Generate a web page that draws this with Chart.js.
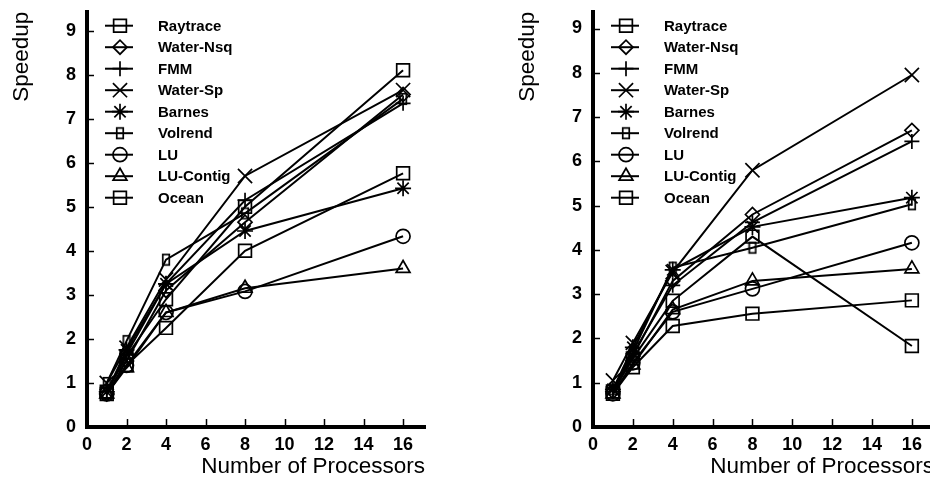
<html>
<head>
<meta charset="utf-8">
<title>Speedup vs. Number of Processors</title>
<style>
  html, body { margin: 0; padding: 0; background: #fff; overflow: hidden; width: 930px; height: 484px; }
  .panel { position: absolute; top: 0; }
</style>
</head>
<body>
<div class="panel" style="left:0px"><canvas id="left" width="465" height="484"></canvas></div>
<div class="panel" style="left:506px"><canvas id="right" width="465" height="484"></canvas></div>
<script src="https://cdn.jsdelivr.net/npm/chart.js"></script>
<script>
// processor counts on the x axis
var processors = [1, 2, 4, 8, 16];
var programs = ["Raytrace", "Water-Nsq", "FMM", "Water-Sp", "Barnes", "Volrend", "LU", "LU-Contig", "Ocean"];
var xTitle = "Number of Processors";
var yTitle = "Speedup";

// left panel, speedup at 1, 2, 4, 8, 16 processors
var leftRaytrace = [0.8, 1.6, 2.9, 5.0, 8.1];
var leftWaterNsq = [0.75, 1.5, 3.1, 4.65, 7.55];
var leftFMM = [0.8, 1.65, 3.25, 5.15, 7.35];
var leftWaterSp = [1.0, 1.8, 3.35, 5.7, 7.65];
var leftBarnes = [0.8, 1.75, 3.25, 4.45, 5.42];
var leftVolrend = [1.0, 1.95, 3.8, 4.85, 7.45];
var leftLU = [0.75, 1.4, 2.6, 3.08, 4.33];
var leftLUContig = [0.75, 1.35, 2.6, 3.15, 3.6];
var leftOcean = [0.75, 1.4, 2.25, 4.0, 5.76];

// right panel
var rightRaytrace = [0.8, 1.55, 2.85, 4.3, 1.83];
var rightWaterNsq = [0.8, 1.6, 3.3, 4.8, 6.7];
var rightFMM = [0.8, 1.65, 3.2, 4.62, 6.45];
var rightWaterSp = [1.05, 1.9, 3.5, 5.8, 7.95];
var rightBarnes = [0.85, 1.8, 3.55, 4.52, 5.18];
var rightVolrend = [0.85, 1.7, 3.6, 4.05, 5.03];
var rightLU = [0.75, 1.45, 2.6, 3.12, 4.16];
var rightLUContig = [0.75, 1.4, 2.65, 3.3, 3.57];
var rightOcean = [0.75, 1.35, 2.28, 2.56, 2.86];

var leftSeries = [leftRaytrace, leftWaterNsq, leftFMM, leftWaterSp, leftBarnes, leftVolrend, leftLU, leftLUContig, leftOcean];
var rightSeries = [rightRaytrace, rightWaterNsq, rightFMM, rightWaterSp, rightBarnes, rightVolrend, rightLU, rightLUContig, rightOcean];

var fontFamily = "'Liberation Sans', Arial, Helvetica, sans-serif";

// narrow upright box used for Volrend
function tallBox() {
    var c = document.createElement("canvas");
    c.width = 10;
    c.height = 14;
    var g = c.getContext("2d");
    g.strokeStyle = "#000";
    g.lineWidth = 1.7;
    g.strokeRect(1.75, 1.75, 6.5, 10.5);
    return c;
}

var markerStyles = ["rect", "rectRot", "cross", "crossRot", "star", tallBox(), "circle", "triangle", "rect"];
var markerSizes = [9, 7, 7.5, 10, 8, 6, 7, 8, 9];

// legend drawn as line + marker sample, inside the plot area
var lineLegend = {
    id: "lineLegend",
    afterDraw: function (chart) {
        var ctx = chart.ctx;
        var a = chart.chartArea;
        ctx.save();
        chart.data.datasets.forEach(function (ds, i) {
            var y = a.top + 14 + i * 21.5;
            ctx.strokeStyle = "#000";
            ctx.lineWidth = 2;
            ctx.beginPath();
            ctx.moveTo(a.left + 18, y);
            ctx.lineTo(a.left + 46, y);
            ctx.stroke();
            ctx.fillStyle = "rgba(0,0,0,0)";
            ctx.lineWidth = 1.7;
            Chart.helpers.drawPoint(ctx, {
                pointStyle: ds.pointStyle,
                radius: ds.pointRadius,
                borderWidth: 1.7,
                rotation: 0
            }, a.left + 33, y);
            ctx.fillStyle = "#000";
            ctx.font = "bold 15px " + fontFamily;
            ctx.textBaseline = "middle";
            ctx.textAlign = "left";
            ctx.fillText(ds.label, a.left + 71, y + 1);
        });
        ctx.restore();
    }
};

// short tick marks pointing into the plot
var innerTicks = {
    id: "innerTicks",
    afterDraw: function (chart) {
        var ctx = chart.ctx;
        var a = chart.chartArea;
        var xs = chart.scales.x;
        var ys = chart.scales.y;
        ctx.save();
        ctx.strokeStyle = "#000";
        ctx.lineWidth = 1.5;
        xs.ticks.forEach(function (t) {
            if (t.value === 0) return;
            var px = Math.round(xs.getPixelForValue(t.value)) + 0.5;
            ctx.beginPath();
            ctx.moveTo(px, a.bottom);
            ctx.lineTo(px, a.bottom - 8);
            ctx.stroke();
        });
        ys.ticks.forEach(function (t) {
            if (t.value === 0) return;
            var py = Math.round(ys.getPixelForValue(t.value)) + 0.5;
            ctx.beginPath();
            ctx.moveTo(a.left, py);
            ctx.lineTo(a.left + 7, py);
            ctx.stroke();
        });
        ctx.restore();
    }
};

function makeChart(id, series, padRight, xMax, yMax) {
    var datasets = programs.map(function (name, i) {
        return {
            label: name,
            data: processors.map(function (p, j) { return { x: p, y: series[i][j] }; }),
            borderColor: "#000",
            borderWidth: 2,
            pointStyle: markerStyles[i],
            pointRadius: markerSizes[i],
            pointBorderWidth: 1.7,
            pointBorderColor: "#000",
            pointBackgroundColor: "rgba(0,0,0,0)",
            fill: false,
            tension: 0,
            clip: false
        };
    });
    return new Chart(document.getElementById(id), {
        type: "line",
        data: { datasets: datasets },
        plugins: [innerTicks, lineLegend],
        options: {
            responsive: false,
            animation: false,
            devicePixelRatio: 1,
            layout: { padding: { top: 7, right: padRight, bottom: 0, left: 0 } },
            plugins: {
                legend: { display: false },
                tooltip: { enabled: false }
            },
            scales: {
                x: {
                    type: "linear",
                    min: 0,
                    max: xMax,
                    grid: { display: false, drawTicks: false },
                    border: { display: true, color: "#000", width: 4 },
                    ticks: {
                        stepSize: 2,
                        includeBounds: false,
                        padding: 7,
                        color: "#000",
                        maxRotation: 0,
                        font: { family: fontFamily, size: 18, weight: "bold" }
                    },
                    title: {
                        display: true,
                        text: xTitle,
                        align: "end",
                        color: "#000",
                        font: { family: fontFamily, size: 22.5 },
                        padding: { top: 0, bottom: 3.5 }
                    },
                    afterFit: function (s) {
                        s.height = 57;
                        s.paddingLeft = 0;
                        s.paddingRight = 0;
                    }
                },
                y: {
                    type: "linear",
                    min: 0,
                    max: yMax,
                    grid: { display: false, drawTicks: false },
                    border: { display: true, color: "#000", width: 4 },
                    ticks: {
                        stepSize: 1,
                        includeBounds: false,
                        padding: 11,
                        color: "#000",
                        font: { family: fontFamily, size: 18, weight: "bold" }
                    },
                    title: {
                        display: true,
                        text: yTitle,
                        align: "end",
                        color: "#000",
                        font: { family: fontFamily, size: 22.5 },
                        padding: { top: 8, bottom: 0 }
                    },
                    afterFit: function (s) {
                        s.width = 87;
                        s.paddingTop = 0;
                        s.paddingBottom = 0;
                    }
                }
            }
        }
    });
}

makeChart("left", leftSeries, 40, 17.11, 9.43);
makeChart("right", rightSeries, 37, 17.11, 9.38);
</script>
</body>
</html>
